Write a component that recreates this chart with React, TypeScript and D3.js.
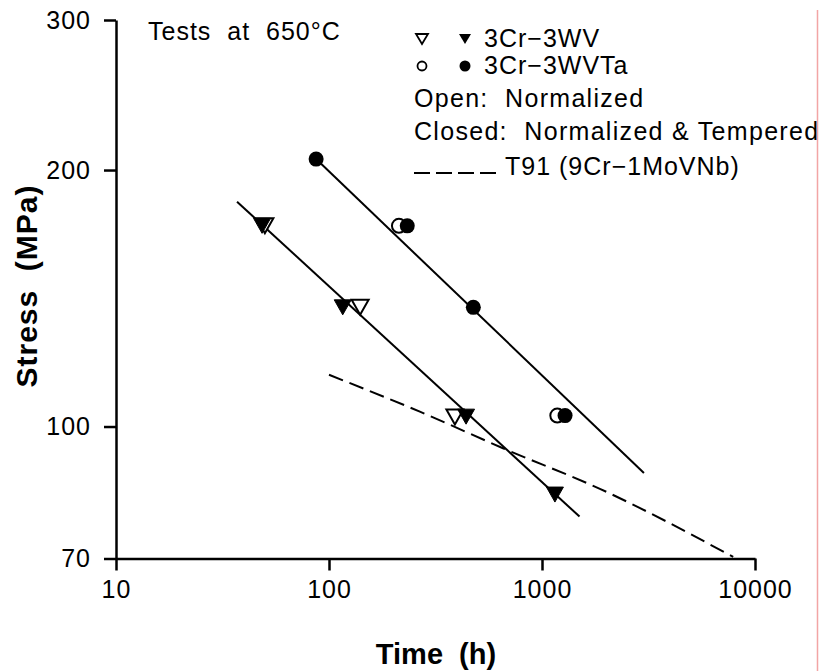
import * as React from "react";
import { useEffect, useRef } from "react";
import * as d3 from "d3";

// rupture data, time (h) vs stress (MPa)
const wvNormalized = [
  { t: 50, s: 172 },
  { t: 140, s: 138 },
  { t: 390, s: 102.6 },
];
const wvTempered = [
  { t: 48.5, s: 172 },
  { t: 116, s: 138 },
  { t: 440, s: 102.7 },
  { t: 1150, s: 83.2 },
];
const taNormalized = [
  { t: 213, s: 172 },
  { t: 1180, s: 103 },
];
const taTempered = [
  { t: 87, s: 206 },
  { t: 233, s: 172 },
  { t: 476, s: 138 },
  { t: 1283, s: 103 },
];

// fitted lines
const wvFit: [number, number][] = [[37, 183.6], [1500, 78.4]];
const taFit: [number, number][] = [[87, 206], [3010, 88.2]];
// T91 reference curve (slightly bent)
const t91Curve: [number, number][] = [[100, 115], [267, 104.1], [656, 94.3], [1870, 84.5], [7900, 70.3]];

const xTicks = [10, 100, 1000, 10000];
const yTicks = [70, 100, 200, 300];

const legendRows = [
  { text: "3Cr\u22123WV", marker: "triangle" },
  { text: "3Cr\u22123WVTa", marker: "circle" },
];
const noteRows = ["Open:  Normalized", "Closed:  Normalized & Tempered"];
const t91Label = "T91 (9Cr\u22121MoVNb)";

const FONT = "'Liberation Sans', Arial, Helvetica, sans-serif";
const triPath = (w: number, h: number) =>
  `M${-w / 2},${-h / 2}L${w / 2},${-h / 2}L0,${h / 2}Z`;

export default function App() {
  const svgRef = useRef<SVGSVGElement>(null);

  useEffect(() => {
    if (!svgRef.current) return;
    const svg = d3.select(svgRef.current);
    svg.selectAll("*").remove();

    const x = d3.scaleLog().domain([10, 10000]).range([116, 755]);
    const y = d3.scaleLog().domain([70, 300]).range([558.5, 20]);

    // axes
    const xAxis = svg.append("g")
      .attr("transform", `translate(0,${y(70)})`)
      .call(d3.axisBottom(x).tickValues(xTicks).tickFormat(d3.format("d")).tickSize(12).tickSizeOuter(0).tickPadding(10));
    const yAxis = svg.append("g")
      .attr("transform", `translate(${x(10)},0)`)
      .call(d3.axisLeft(y).tickValues(yTicks).tickFormat(d3.format("d")).tickSize(12).tickSizeOuter(0).tickPadding(13));

    [xAxis, yAxis].forEach(g => {
      g.selectAll("path, line").attr("stroke", "#000").attr("stroke-width", 2.5);
      g.selectAll("text")
        .attr("fill", "#000")
        .style("font-family", FONT)
        .style("font-size", "25px")
        .style("letter-spacing", "1px");
    });

    // axis titles
    svg.append("text")
      .attr("x", 436).attr("y", 664)
      .attr("text-anchor", "middle")
      .style("font-family", FONT).style("font-size", "29px").style("font-weight", "bold")
      .style("white-space", "pre")
      .text("Time  (h)");
    svg.append("text")
      .attr("transform", `translate(37,${286}) rotate(-90)`)
      .attr("text-anchor", "middle")
      .style("font-family", FONT).style("font-size", "30px").style("font-weight", "bold")
      .style("letter-spacing", "1px")
      .style("white-space", "pre")
      .text("Stress  (MPa)");

    const line = d3.line<[number, number]>().x(d => x(d[0])).y(d => y(d[1]));
    const curve = d3.line<[number, number]>().x(d => x(d[0])).y(d => y(d[1])).curve(d3.curveMonotoneX);

    // fit lines
    svg.append("path").attr("d", line(wvFit)).attr("fill", "none").attr("stroke", "#000").attr("stroke-width", 2);
    svg.append("path").attr("d", line(taFit)).attr("fill", "none").attr("stroke", "#000").attr("stroke-width", 2);
    svg.append("path").attr("d", curve(t91Curve)).attr("fill", "none").attr("stroke", "#000")
      .attr("stroke-width", 2).attr("stroke-dasharray", "15,7");

    // markers: open first, closed on top
    svg.append("g").selectAll("path").data(wvNormalized).join("path")
      .attr("d", triPath(17, 15))
      .attr("transform", d => `translate(${x(d.t)},${y(d.s)})`)
      .attr("fill", "#fff").attr("stroke", "#000").attr("stroke-width", 2);
    svg.append("g").selectAll("path").data(wvTempered).join("path")
      .attr("d", triPath(17, 15))
      .attr("transform", d => `translate(${x(d.t)},${y(d.s)})`)
      .attr("fill", "#000").attr("stroke", "#000").attr("stroke-width", 1);
    svg.append("g").selectAll("circle").data(taNormalized).join("circle")
      .attr("cx", d => x(d.t)).attr("cy", d => y(d.s)).attr("r", 7)
      .attr("fill", "#fff").attr("stroke", "#000").attr("stroke-width", 2);
    svg.append("g").selectAll("circle").data(taTempered).join("circle")
      .attr("cx", d => x(d.t)).attr("cy", d => y(d.s)).attr("r", 7.5)
      .attr("fill", "#000");

    // annotation
    svg.append("text")
      .attr("x", 148).attr("y", 40)
      .style("font-family", FONT).style("font-size", "25px").style("letter-spacing", "1px")
      .style("white-space", "pre")
      .text("Tests  at  650\u00B0C");

    // legend
    const lg = svg.append("g");
    const rowY = [47, 74, 107, 140, 175];
    legendRows.forEach((r, i) => {
      const cy = rowY[i] - 8;
      if (r.marker === "triangle") {
        lg.append("path").attr("d", triPath(12, 10)).attr("transform", `translate(422,${cy})`)
          .attr("fill", "#fff").attr("stroke", "#000").attr("stroke-width", 1.8);
        lg.append("path").attr("d", triPath(12, 10)).attr("transform", `translate(465,${cy})`)
          .attr("fill", "#000");
      } else {
        lg.append("circle").attr("cx", 422).attr("cy", cy).attr("r", 4.5)
          .attr("fill", "#fff").attr("stroke", "#000").attr("stroke-width", 1.8);
        lg.append("circle").attr("cx", 465).attr("cy", cy).attr("r", 5.5).attr("fill", "#000");
      }
      lg.append("text").attr("x", 484).attr("y", rowY[i])
        .style("font-family", FONT).style("font-size", "25px").style("letter-spacing", "1px")
        .text(r.text);
    });
    noteRows.forEach((t, i) => {
      lg.append("text").attr("x", 414).attr("y", rowY[i + 2])
        .style("font-family", FONT).style("font-size", "25px").style("letter-spacing", "1.3px")
        .style("white-space", "pre")
        .text(t);
    });
    lg.append("line").attr("x1", 414).attr("x2", 498).attr("y1", rowY[4] - 2).attr("y2", rowY[4] - 2)
      .attr("stroke", "#000").attr("stroke-width", 2).attr("stroke-dasharray", "16,6");
    lg.append("text").attr("x", 505).attr("y", rowY[4])
      .style("font-family", FONT).style("font-size", "25px").style("letter-spacing", "1px")
      .text(t91Label);

    // right edge rule
    svg.append("line").attr("x1", 817.5).attr("x2", 817.5).attr("y1", 10).attr("y2", 671)
      .attr("stroke", "#f2a5a5").attr("stroke-width", 1.5);
  }, []);

  return (
    <svg
      ref={svgRef}
      width={822}
      height={671}
      style={{ position: "absolute", left: 0, top: 0, background: "#fff" }}
    />
  );
}
